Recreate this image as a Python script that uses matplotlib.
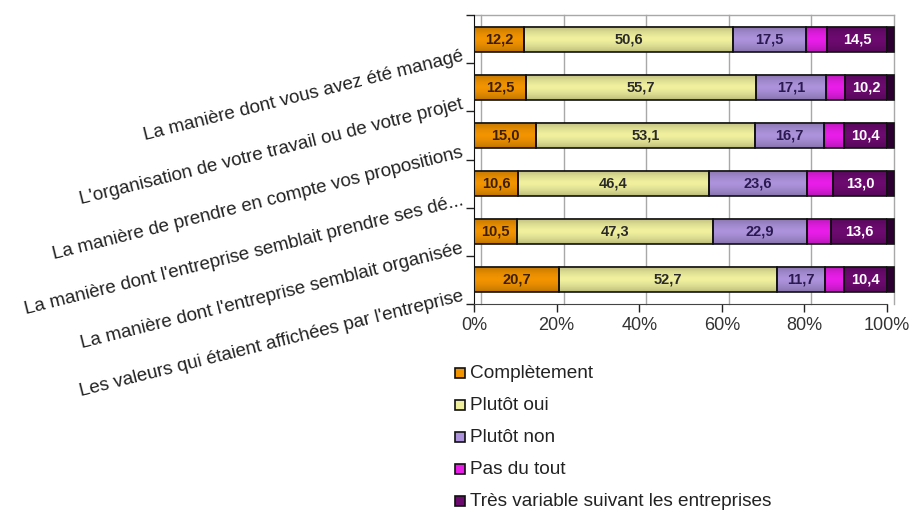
import matplotlib.pyplot as plt
from matplotlib.patches import Rectangle
import matplotlib.transforms as mtransforms
import numpy as np

plt.rcParams['font.family'] = ['Liberation Sans', 'DejaVu Sans']

# survey items, top to bottom
questions = [
    "La manière dont vous avez été managé",
    "L'organisation de votre travail ou de votre projet",
    "La manière de prendre en compte vos propositions",
    "La manière dont l'entreprise semblait prendre ses dé...",
    "La manière dont l'entreprise semblait organisée",
    "Les valeurs qui étaient affichées par l'entreprise",
]
series_names = ["Complètement", "Plutôt oui", "Plutôt non", "Pas du tout",
                "Très variable suivant les entreprises"]

# percentages per answer
completement = [12.2, 12.5, 15.0, 10.6, 10.5, 20.7]
plutot_oui = [50.6, 55.7, 53.1, 46.4, 47.3, 52.7]
plutot_non = [17.5, 17.1, 16.7, 23.6, 22.9, 11.7]
pas_du_tout = [5.2, 4.5, 4.8, 6.4, 5.7, 4.5]
tres_variable = [14.5, 10.2, 10.4, 13.0, 13.6, 10.4]

colors = ["#f29400", "#efef9e", "#ab92da", "#e81ee8", "#6c0a70"]
text_colors = ["#3a2000", "#2a2a2a", "#2a1a50", None, "white"]
side_color = "#2c0030"

W, H = 910, 514
fig = plt.figure(figsize=(W / 100, H / 100), dpi=100)
# plot area in pixels: x 474..887, y 15..304
ax = fig.add_axes([474 / W, 1 - 304 / H, 413 / W, 289 / H])

data = np.array([completement, plutot_oui, plutot_non, pas_du_tout, tres_variable])
n = len(questions)
y = np.arange(n) + 0.5
bar_h = 0.52
depth_px = 7
depth = depth_px / 413 * 100

# back wall: shifted grid and frame
shift = mtransforms.offset_copy(ax.transData, fig=fig, x=depth_px, y=0, units='dots')
for gx in [0, 20, 40, 60, 80, 100]:
    ax.plot([gx, gx], [0, n], color="#a8a8a8", lw=1, transform=shift, zorder=0,
            clip_on=False)
ax.plot([0, 100 + depth], [0, 0], color="#a8a8a8", lw=1, zorder=0, clip_on=False)

# soft vertical shading over the bars (darker edges, lighter middle)
t = np.linspace(-1, 1, 64)
shade = np.zeros((64, 1, 4))
shade[:, 0, 3] = 0.22 * np.abs(t) ** 1.6

left = np.zeros(n)
for k in range(len(series_names)):
    ax.barh(y, data[k], left=left, height=bar_h, color=colors[k],
            edgecolor="none", zorder=2)
    if text_colors[k] is not None:
        for i in range(n):
            ax.text(left[i] + data[k][i] / 2, y[i], f"{data[k][i]:.1f}".replace(".", ","),
                    ha='center', va='center', fontsize=10.5, fontweight='bold',
                    color=text_colors[k], zorder=5)
    left += data[k]

for i in range(n):
    ax.imshow(shade, extent=(0, 100, y[i] + bar_h / 2, y[i] - bar_h / 2),
              aspect='auto', interpolation='bilinear', zorder=3)

# segment outlines
left = np.zeros(n)
for k in range(len(series_names)):
    ax.barh(y, data[k], left=left, height=bar_h, fill=False,
            edgecolor="#111111", linewidth=1.2, zorder=4)
    left += data[k]

# right end face of each bar
ax.barh(y, depth, left=100, height=bar_h, color=side_color, edgecolor="#111111",
        linewidth=1.2, zorder=4, clip_on=False)

ax.set_xlim(0, 100)
ax.set_ylim(n, 0)
ax.set_xticks([0, 20, 40, 60, 80, 100])
ax.set_xticklabels([f"{v}%" for v in [0, 20, 40, 60, 80, 100]], fontsize=13,
                   color="#333333")
ax.set_yticks(np.arange(n + 1))
ax.set_yticklabels([])
ax.tick_params(axis='both', direction='out', length=6, width=1, color="#222222")
ax.tick_params(axis='x', pad=3)
for side in ['top', 'right']:
    ax.spines[side].set_visible(False)
ax.spines['left'].set_color("#111111")
ax.spines['bottom'].set_color("#444444")

# slanted category labels
for i, q in enumerate(questions):
    tr = mtransforms.offset_copy(ax.transData, fig=fig, x=-10, y=3, units='dots')
    ax.text(0, i + 1, q, transform=tr, rotation=14, rotation_mode='anchor',
            ha='right', va='baseline', fontsize=13.5, color="#222222")

# legend below the chart
for k, name in enumerate(series_names):
    cy = 373 + 32 * k
    fig.patches.append(Rectangle((455 / W, 1 - (cy + 5) / H), 10 / W, 10 / H,
                                 transform=fig.transFigure, facecolor=colors[k],
                                 edgecolor="#111111", linewidth=1.2))
    fig.text(470 / W, 1 - cy / H, name, ha='left', va='center', fontsize=13.7,
             color="#222222")

fig.savefig("out.png", dpi=100, facecolor="white")
